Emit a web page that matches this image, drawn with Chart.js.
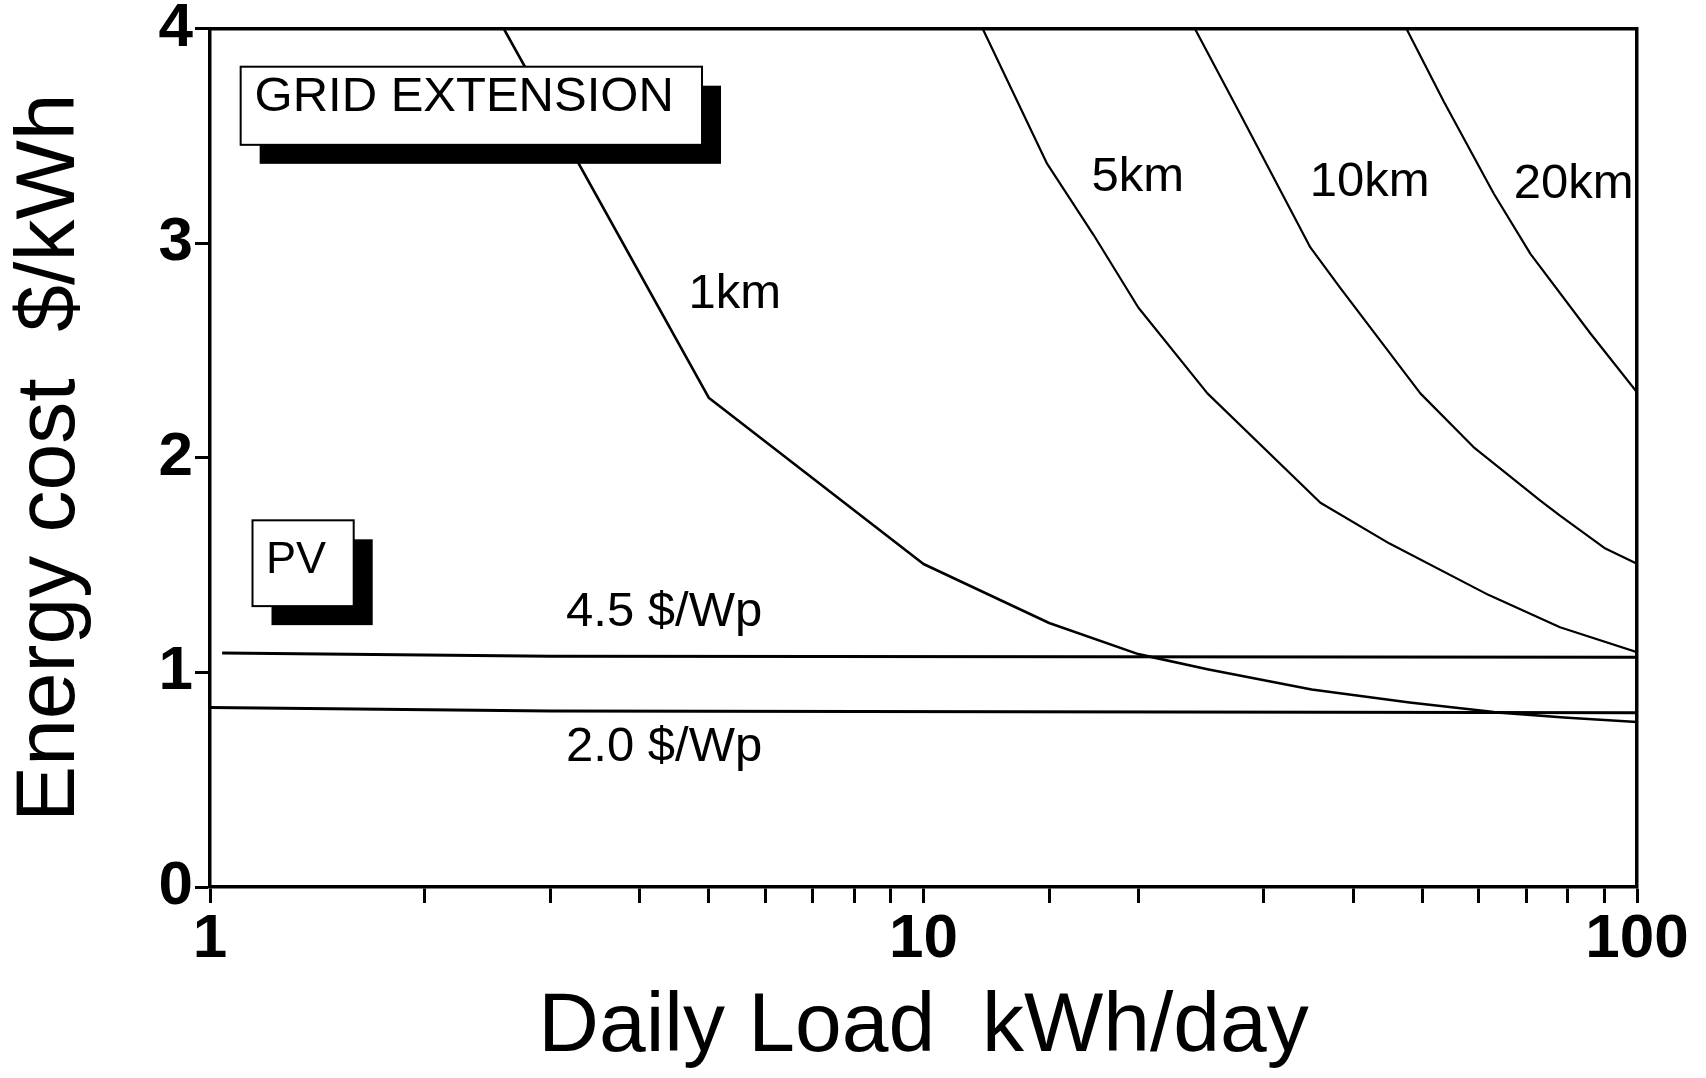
<!DOCTYPE html>
<html><head><meta charset="utf-8">
<script src="https://cdn.jsdelivr.net/npm/chart.js@4"></script>
<style>html,body{margin:0;padding:0;background:#fff;overflow:hidden}</style>
</head><body>
<canvas id="c" width="1706" height="1078"></canvas>
<script>
// ---- data ----
const load1km  = [2.58, 5, 10, 15, 20, 25, 35, 48, 63, 79, 100];
const cost1km  = [4.0, 2.28, 1.505, 1.23, 1.085, 1.015, 0.92, 0.86, 0.815, 0.79, 0.769];
const load5km  = [12.1, 14.9, 17.3, 20, 25, 36, 45, 62, 78, 100];
const cost5km  = [4.0, 3.37, 3.04, 2.70, 2.30, 1.79, 1.60, 1.36, 1.21, 1.094];
const load10km = [24, 27.8, 34.85, 38.4, 49.7, 59, 73.2, 78, 90, 100];
const cost10km = [4.0, 3.60, 2.98, 2.79, 2.30, 2.05, 1.80, 1.73, 1.58, 1.506];
const load20km = [47.5, 53.6, 63, 70.9, 86, 100];
const cost20km = [4.0, 3.66, 3.23, 2.95, 2.58, 2.305];
const loadPV45 = [1.04, 3, 100];
const costPV45 = [1.09, 1.075, 1.07];
const loadPV20 = [1, 3, 100];
const costPV20 = [0.836, 0.82, 0.812];
const xTickLabels = [1, 10, 100];
const yTickValues = [0, 1, 2, 3, 4];

// annotation text anchored in data units
const curveLabels = [
  {text: '1km',      x: 5.44,  y: 2.76},
  {text: '5km',      x: 19.97, y: 3.305},
  {text: '10km',     x: 42.2,  y: 3.281},
  {text: '20km',     x: 81.5,  y: 3.274},
  {text: '4.5 $/Wp', x: 4.33,  y: 1.278},
  {text: '2.0 $/Wp', x: 4.33,  y: 0.650}
];
const boxes = [
  {text: 'GRID EXTENSION', x1: 1.104, x2: 4.893, y1: 3.822, y2: 3.458, tx: 2.271, ty: 3.68, size: 49},
  {text: 'PV',             x1: 1.147, x2: 1.590, y1: 1.7085, y2: 1.3087, tx: 1.32, ty: 1.5226, size: 45}
];

const pts = (xs, ys) => xs.map((x, i) => ({x: x, y: ys[i]}));
const FONT = '"Liberation Sans", Arial, sans-serif';

const annot = {
  id: 'annot',
  afterDatasetsDraw(chart) {
    const {ctx, scales: {x, y}} = chart;
    ctx.save();
    ctx.fillStyle = '#000';
    ctx.textAlign = 'center';
    ctx.textBaseline = 'middle';
    ctx.font = '49px ' + FONT;
    curveLabels.forEach(l => ctx.fillText(l.text, x.getPixelForValue(l.x), y.getPixelForValue(l.y)));
    boxes.forEach(b => {
      const L = x.getPixelForValue(b.x1), R = x.getPixelForValue(b.x2);
      const T = y.getPixelForValue(b.y1), B = y.getPixelForValue(b.y2);
      const off = 19;
      ctx.fillStyle = '#000';
      ctx.fillRect(L + off, T + off, R - L, B - T);
      ctx.fillStyle = '#fff';
      ctx.fillRect(L, T, R - L, B - T);
      ctx.strokeStyle = '#000';
      ctx.lineWidth = 2;
      ctx.strokeRect(L, T, R - L, B - T);
      ctx.fillStyle = '#000';
      ctx.font = b.size + 'px ' + FONT;
      ctx.fillText(b.text, x.getPixelForValue(b.tx), y.getPixelForValue(b.ty));
    });
    ctx.restore();
  }
};

const lineDs = (label, data, w) => ({
  label, data, borderColor: '#000', borderWidth: w, pointRadius: 0,
  fill: false, tension: 0, borderJoinStyle: 'round', borderCapStyle: 'butt'
});

const TICKFONT = '"Liberation Sans", Arial, sans-serif';

new Chart(document.getElementById('c'), {
  type: 'line',
  data: {
    datasets: [
      lineDs('1km', pts(load1km, cost1km), 2.6),
      lineDs('5km', pts(load5km, cost5km), 2.2),
      lineDs('10km', pts(load10km, cost10km), 2.2),
      lineDs('20km', pts(load20km, cost20km), 2.2),
      lineDs('4.5 $/Wp', pts(loadPV45, costPV45), 3),
      lineDs('2.0 $/Wp', pts(loadPV20, costPV20), 3)
    ]
  },
  options: {
    responsive: false,
    animation: false,
    devicePixelRatio: 1,
    layout: {padding: {top: 28.5, right: 69, left: 0, bottom: 0}},
    plugins: {legend: {display: false}, tooltip: {enabled: false}},
    scales: {
      x: {
        type: 'logarithmic', position: 'bottom', min: 1, max: 100,
        afterFit: s => { s.height = 191; },
        border: {display: true, color: '#000', width: 3.5},
        grid: {display: true, drawOnChartArea: false, drawTicks: true, tickLength: 16, tickWidth: 3, tickColor: '#000'},
        ticks: {
          autoSkip: false, maxRotation: 0, padding: 6, color: '#000',
          font: {family: TICKFONT, size: 62, weight: 'bold', lineHeight: 1.0},
          callback: v => xTickLabels.includes(v) ? String(v) : ''
        },
        title: {display: true, text: 'Daily Load  kWh/day', color: '#000',
          font: {family: FONT, size: 84, lineHeight: 1.2}, padding: 0}
      },
      y: {
        type: 'linear', position: 'left', min: 0, max: 4,
        afterFit: s => { s.width = 210; },
        afterBuildTicks: s => { s.ticks = yTickValues.map(v => ({value: v})); },
        border: {display: true, color: '#000', width: 3.5},
        grid: {display: true, drawOnChartArea: false, drawTicks: true, tickLength: 15, tickWidth: 3, tickColor: '#000'},
        ticks: {
          padding: 2, color: '#000',
          font: {family: TICKFONT, size: 62, weight: 'bold', lineHeight: 0.8}
        },
        title: {display: true, text: 'Energy cost  $/kWh', color: '#000',
          font: {family: FONT, size: 84, lineHeight: 1.2}, padding: 0}
      },
      x2: {
        type: 'linear', position: 'top', display: true,
        afterFit: s => { s.height = 0; },
        border: {display: true, color: '#000', width: 3.5},
        grid: {display: false}, ticks: {display: false}
      },
      y2: {
        type: 'linear', position: 'right', display: true,
        afterFit: s => { s.width = 0; },
        border: {display: true, color: '#000', width: 3.5},
        grid: {display: false}, ticks: {display: false}
      }
    }
  },
  plugins: [annot]
});
</script>
</body></html>
